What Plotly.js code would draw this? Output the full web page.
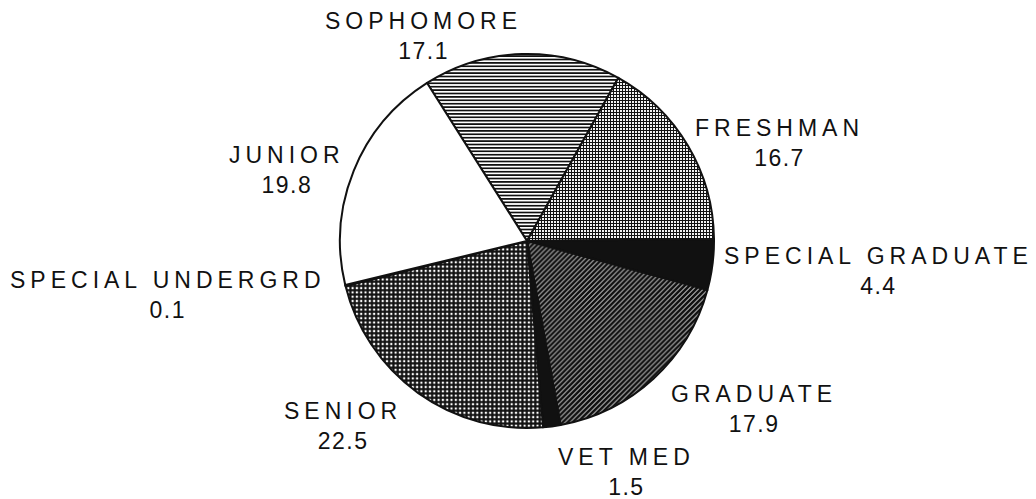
<!DOCTYPE html>
<html>
<head>
<meta charset="utf-8">
<script src="https://cdn.plot.ly/plotly-3.0.1.min.js"></script>
<style>
  html, body { margin: 0; padding: 0; background: #fff; }
  #chart { width: 1036px; height: 499px; }
  .annotation-text tspan.line:first-child { letter-spacing: 5px; }
  .annotation-text tspan.line:nth-child(2) { letter-spacing: 1.5px; }
</style>
</head>
<body>
<div id="chart"></div>
<script>
// ---- data ----
const categories = ['SOPHOMORE', 'FRESHMAN', 'SPECIAL GRADUATE', 'GRADUATE', 'VET MED', 'SENIOR', 'SPECIAL UNDERGRD', 'JUNIOR'];
const shares = [17.1, 16.7, 4.4, 17.9, 1.5, 22.5, 0.1, 19.8];

// ---- styles ----
const sliceColors = ['#ffffff', '#ffffff', '#111111', '#ffffff', '#111111', '#ffffff', '#111111', '#ffffff'];
const patternShapes = ['-', '+', '', '/', '', '+', '', ''];
const patternSizes = [3.4, 3, 4, 3.5, 4, 4.3, 4, 4];
const patternSolidity = [0.5, 0.6, 0.5, 0.8, 0.5, 0.75, 0.5, 0.5];

// label block positions (pixels in the 1036x499 page)
const labelPx = [423, 779, 878, 754, 626, 343, 168, 287];
const labelPy = [36, 143, 271, 409, 472, 426, 295, 170];

const W = 1036, H = 499;
const cx = 527, cy = 241, R = 187;

const trace = {
  type: 'pie',
  labels: categories,
  values: shares,
  sort: false,
  direction: 'clockwise',
  rotation: -32.3,
  textinfo: 'none',
  hoverinfo: 'label+value',
  domain: { x: [(cx - R) / W, (cx + R) / W], y: [1 - (cy + R) / H, 1 - (cy - R) / H] },
  marker: {
    colors: sliceColors,
    line: { color: '#111111', width: 2 },
    pattern: {
      shape: patternShapes,
      fgcolor: '#111111',
      bgcolor: '#ffffff',
      size: patternSizes,
      solidity: patternSolidity,
      fillmode: 'replace'
    }
  }
};

const annotations = categories.map((c, i) => ({
  text: c + '<br>' + shares[i].toFixed(1),
  x: labelPx[i] / W,
  y: 1 - labelPy[i] / H,
  xref: 'paper', yref: 'paper',
  xanchor: 'center', yanchor: 'middle',
  align: 'center',
  showarrow: false,
  font: { family: 'Liberation Sans, Arial, sans-serif', size: 23, color: '#111111' }
}));

const layout = {
  width: W, height: H,
  margin: { l: 0, r: 0, t: 0, b: 0 },
  paper_bgcolor: '#ffffff',
  plot_bgcolor: '#ffffff',
  showlegend: false,
  annotations: annotations
};

Plotly.newPlot('chart', [trace], layout, { staticPlot: true, displayModeBar: false });
</script>
</body>
</html>
